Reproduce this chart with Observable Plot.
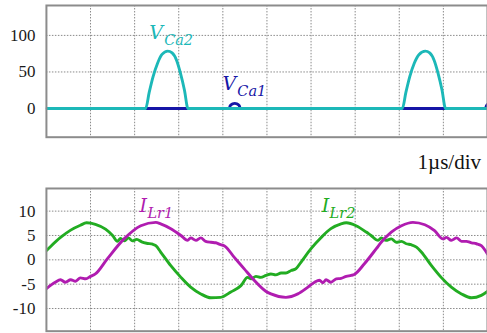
<!DOCTYPE html>
<html>
<head>
<meta charset="utf-8">
<script src="https://cdn.jsdelivr.net/npm/d3@7"></script>
<script src="https://cdn.jsdelivr.net/npm/@observablehq/plot@0.6"></script>
<style>
  html, body { margin: 0; padding: 0; background: #fff; overflow: hidden; }
  #wrap { position: relative; width: 487px; height: 333px; overflow: hidden; }
  #top, #bottom { position: absolute; left: 0; }
  #top { top: 0; }
  #bottom { top: 180px; }
  #scale { position: absolute; right: 6px; top: 150px; font: 21px "Liberation Serif", "Times New Roman", serif; color: #111; white-space: nowrap; }
</style>
</head>
<body>
<div id="wrap">
  <div id="top"></div>
  <div id="scale">1µs/div</div>
  <div id="bottom"></div>
</div>
<script>
// Time axis: 10 divisions of 1 µs
const divisions = [1, 2, 3, 4, 5, 6, 7, 8, 9, 10];
const voltTicks = [0, 50, 100];
const currentTicks = [-10, -5, 0, 5, 10];

// Clamp-capacitor voltages [t (µs), V]
const vCa2 = [
  [0, 0], [2.25, 0], [2.33, 22], [2.42, 44], [2.52, 62], [2.62, 74], [2.75, 78.5],
  [2.85, 76], [2.95, 66], [3.04, 48], [3.13, 25], [3.21, 0],
  [8.07, 0], [8.15, 22], [8.24, 44], [8.34, 62], [8.45, 74], [8.59, 78.5],
  [8.69, 76], [8.79, 66], [8.88, 48], [8.97, 25], [9.05, 0], [10, 0]
];
const vCa1 = [
  [0, 0], [4.14, 0], [4.17, 4], [4.22, 6.5], [4.27, 7], [4.32, 6.5], [4.37, 4], [4.40, 0],
  [9.95, 0], [9.98, 4], [10.03, 6.5]
];

// Resonant inductor currents [t (µs), A]
const iLr1 = [
  [0, -5.9], [0.2, -4.6], [0.32, -4.1], [0.43, -4.6], [0.55, -4.1], [0.66, -4.4], [0.77, -3.7],
  [0.89, -3.9], [1.0, -3.4], [1.11, -2.9], [1.38, 0.2], [1.76, 4.3], [2.14, 7.0], [2.48, 7.7],
  [2.59, 7.4], [2.82, 6.4], [3.05, 5.0], [3.2, 4.0], [3.27, 4.5], [3.39, 4.0], [3.5, 4.5],
  [3.61, 3.8], [3.73, 3.6], [3.84, 3.5], [3.95, 3.1], [4.03, 2.9], [4.26, 0.5], [4.48, -1.8],
  [4.71, -4.2], [4.98, -6.5], [5.09, -7.0], [5.43, -7.7], [5.7, -7.0], [5.93, -5.6], [6.08, -4.6],
  [6.19, -4.2], [6.27, -4.7], [6.34, -4.1], [6.45, -4.6], [6.57, -3.9], [6.68, -3.8], [6.8, -3.4],
  [6.91, -3.2], [6.98, -3.0], [7.21, -0.8], [7.48, 2.3], [7.59, 3.6], [7.82, 5.7], [8.05, 7.0],
  [8.31, 7.7], [8.58, 7.2], [8.8, 6.0], [8.99, 4.3], [9.07, 4.6], [9.18, 4.0], [9.3, 4.5],
  [9.41, 3.8], [9.52, 3.8], [9.64, 3.5], [9.75, 3.3], [9.86, 2.9], [10.0, 1.2]
];
const iLr2 = [
  [0, 1.9], [0.09, 2.7], [0.32, 4.6], [0.55, 6.1], [0.77, 7.1], [0.91, 7.6], [1.11, 7.3],
  [1.34, 6.3], [1.5, 5.0], [1.61, 3.8], [1.68, 4.4], [1.77, 3.9], [1.86, 4.5], [1.95, 3.9],
  [2.05, 4.2], [2.16, 3.7], [2.27, 3.4], [2.41, 3.2], [2.48, 2.9], [2.59, 1.6], [2.82, -1.2],
  [3.05, -3.6], [3.27, -5.6], [3.5, -7.0], [3.73, -7.8], [3.95, -7.7], [4.18, -6.6], [4.41, -5.3],
  [4.56, -3.6], [4.64, -3.9], [4.75, -3.4], [4.86, -3.6], [4.98, -3.2], [5.09, -2.9], [5.2, -3.1],
  [5.32, -2.7], [5.43, -2.7], [5.55, -2.2], [5.66, -1.8], [5.77, -0.5], [6.0, 2.3], [6.23, 4.6],
  [6.45, 6.4], [6.68, 7.4], [6.8, 7.6], [7.02, 7.0], [7.25, 5.7], [7.36, 5.0], [7.52, 4.0],
  [7.59, 4.5], [7.7, 4.0], [7.82, 4.3], [7.93, 3.6], [8.05, 3.8], [8.16, 3.3], [8.27, 3.1],
  [8.39, 2.6], [8.5, 1.6], [8.73, -1.2], [8.95, -3.6], [9.18, -5.6], [9.41, -7.0], [9.64, -7.8],
  [9.86, -7.3], [10, -6.5]
];

// Trace name labels, placed in data units
const voltLabels = [
  {series: "VCa2", main: "V", sub: "Ca2", t: 2.33, v: 94.5},
  {series: "VCa1", main: "V", sub: "Ca1", t: 3.99, v: 25}
];
const currentLabels = [
  {series: "ILr1", main: "I", sub: "Lr1", t: 2.11, v: 9.8},
  {series: "ILr2", main: "I", sub: "Lr2", t: 6.24, v: 9.9}
];

const colors = {VCa2: "#1cb8b8", VCa1: "#1616a6", ILr1: "#b01cb0", ILr2: "#22ac22"};
const subOffset = {V: 15, I: 8};

const serif = "'Liberation Serif', 'Times New Roman', serif";
const italicSerif = "'DejaVu Serif', serif";
const gridStyle = {stroke: "#8a8a8a", strokeOpacity: 1, strokeWidth: 1, strokeDasharray: "1.5,1.5"};
const frameStyle = {stroke: "#8c8c8c", strokeWidth: 2};
const axisStyle = {label: null, tickSize: 0, tickPadding: 11, fontSize: 17,
  tickFormat: d => String(d), fill: "#1a1a1a"};
const lineStyle = {x: d => d[0], y: d => d[1], strokeWidth: 2.9, curve: "monotone-x", clip: true};

function labelMarks(labels) {
  const marks = [
    Plot.text(labels, {x: "t", y: "v", text: "main", fill: d => colors[d.series],
      textAnchor: "start", lineAnchor: "bottom", fontStyle: "italic", fontSize: 19})
  ];
  for (const key of Object.keys(subOffset)) {
    const subset = labels.filter(d => d.main === key);
    if (subset.length) marks.push(Plot.text(subset, {x: "t", y: "v", text: "sub", fill: d => colors[d.series],
      dx: subOffset[key], dy: 6, textAnchor: "start", lineAnchor: "bottom",
      fontStyle: "italic", fontSize: 14.5}));
  }
  return marks;
}

const common = {
  width: 488, marginLeft: 46, marginRight: 0,
  x: {domain: [0, 10], axis: null},
  style: {background: "transparent", overflow: "visible"}
};

const topChart = Plot.plot({
  ...common,
  height: 145, marginTop: 5, marginBottom: 8,
  y: {domain: [-39.2, 140.9], axis: null},
  marks: [
    Plot.gridX(divisions, gridStyle),
    Plot.gridY(voltTicks, gridStyle),
    Plot.axisY(voltTicks, axisStyle),
    Plot.line(vCa1, {...lineStyle, stroke: colors.VCa1}),
    Plot.line(vCa2, {...lineStyle, stroke: colors.VCa2}),
    Plot.frame(frameStyle),
    ...labelMarks(voltLabels)
  ]
});

const bottomChart = Plot.plot({
  ...common,
  height: 153, marginTop: 8, marginBottom: 2,
  y: {domain: [-14.65, 14.65], axis: null},
  marks: [
    Plot.gridX(divisions, gridStyle),
    Plot.gridY(currentTicks, gridStyle),
    Plot.axisY(currentTicks, axisStyle),
    Plot.line(iLr2, {...lineStyle, stroke: colors.ILr2}),
    Plot.line(iLr1, {...lineStyle, stroke: colors.ILr1}),
    Plot.frame(frameStyle),
    ...labelMarks(currentLabels)
  ]
});

// Fonts set inline: upright serif for the tick numbers, italic serif for the trace names
for (const chart of [topChart, bottomChart]) {
  const svg = d3.select(chart);
  svg.style("font-family", serif);
  svg.selectAll("text").style("font-family", serif);
  svg.selectAll('g[font-style="italic"] text').style("font-family", italicSerif);
}

document.getElementById("top").appendChild(topChart);
document.getElementById("bottom").appendChild(bottomChart);
</script>
</body>
</html>
